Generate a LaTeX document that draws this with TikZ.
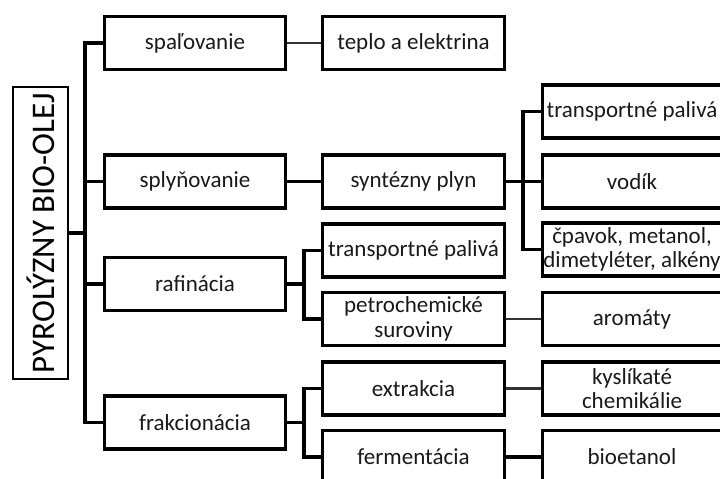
\documentclass[tikz,border=0pt]{standalone}
\usepackage{fontspec}
\setmainfont{Carlito}
\begin{document}
\begin{tikzpicture}[x=1pt,y=-1pt,
  box/.style={draw, line width=3.4pt, minimum height=53pt, inner sep=0pt, align=center,
    font=\fontsize{23}{24.5}\selectfont, text=black!90},
  c1/.style={box, minimum width=181pt},
  c2/.style={box, minimum width=182pt},
  c3/.style={box, minimum width=179pt},
  wire/.style={line width=3.6pt, line join=miter},
  link/.style={line width=2.6pt, black!80}]
\clip (0,0) rectangle (720,479);
% root
\node[draw, line width=2.8pt, minimum width=55pt, minimum height=292pt, inner sep=0pt]
  (root) at (40.5,233) {\rotatebox{90}{\fontsize{33}{36}\selectfont PYROLÝZNY BIO-OLEJ}};
% column 1
\node[c1] (spal) at (195,43) {spaľovanie};
\node[c1] (sply) at (195,181.5) {splyňovanie};
\node[c1] (raf)  at (195,284) {rafinácia};
\node[c1] (frak) at (195,422.5) {frakcionácia};
% column 2
\node[c2] (tep)  at (413.5,43) {teplo a elektrina};
\node[c2] (syn)  at (413.5,181.5) {syntézny plyn};
\node[c2] (tpm)  at (413.5,250.5) {transportné palivá};
\node[c2] (pet)  at (413.5,319) {petrochemické\\suroviny};
\node[c2] (ext)  at (413.5,388.5) {extrakcia};
\node[c2] (fer)  at (413.5,457) {fermentácia};
% column 3
\node[c3] (tpr)  at (632,111.5) {transportné palivá};
\node[c3] (vod)  at (632,181.5) {vodík};
\node[c3] (cpa)  at (632,249.5) {čpavok, metanol,\\dimetyléter, alkény};
\node[c3] (aro)  at (632,319) {aromáty};
\node[c3] (kys)  at (632,388.5) {kyslíkaté\\chemikálie};
\node[c3] (bio)  at (632,457) {bioetanol};
% junctions
\coordinate (tr) at (85,233);
\coordinate (rj) at (304,284);
\coordinate (fj) at (304,422.5);
\coordinate (sj) at (523,181.5);
% trunk
\draw[wire] (root.east) -- (tr);
\draw[wire] (spal.west) -| (tr) |- (frak.west);
\draw[wire] (tr) |- (sply.west);
\draw[wire] (tr) |- (raf.west);
% column 1 -> 2
\draw[link] (spal.east) -- (tep.west);
\draw[wire] (sply.east) -- (syn.west);
\draw[wire] (raf.east) -- (rj);
\draw[wire] (tpm.west) -| (rj) |- (pet.west);
\draw[wire] (frak.east) -- (fj);
\draw[wire] (ext.west) -| (fj) |- (fer.west);
% column 2 -> 3
\draw[wire] (syn.east) -- (vod.west);
\draw[wire] (tpr.west) -| (sj) |- (cpa.west);
\draw[link] (pet.east) -- (aro.west);
\draw[link] (ext.east) -- (kys.west);
\draw[wire] (fer.east) -- (bio.west);
\end{tikzpicture}
\end{document}
